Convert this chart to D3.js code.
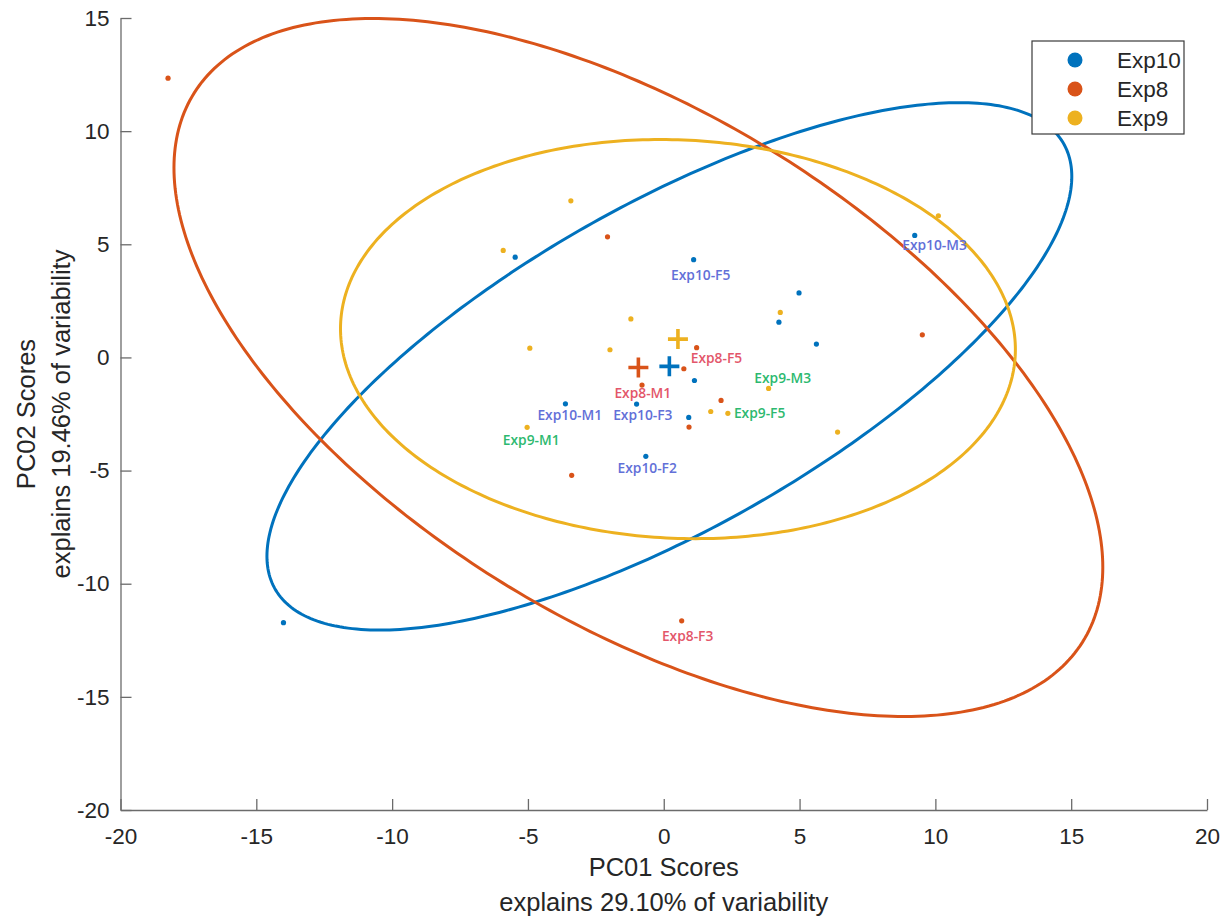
<!DOCTYPE html>
<html>
<head>
<meta charset="utf-8">
<script src="https://cdn.jsdelivr.net/npm/d3@7"></script>
<style>
  html, body { margin: 0; padding: 0; background: #ffffff; }
  svg { display: block; }
</style>
</head>
<body>
<svg id="chart" width="1230" height="917"></svg>
<script>
// ---------------- DATA ----------------
const groups = ["Exp10", "Exp8", "Exp9"];

const exp10X = [-5.47, 1.10, 4.98, 4.24, 5.62, 1.13, -3.62, -1.00, 0.92, -0.66, 9.24, -14.00];
const exp10Y = [4.43, 4.32, 2.85, 1.56, 0.59, -1.02, -2.05, -2.06, -2.65, -4.37, 5.39, -11.72];

const exp8X = [-18.25, -2.07, 9.52, 1.21, 0.74, -0.80, 2.11, 0.93, -3.39, 0.66];
const exp8Y = [12.34, 5.33, 1.00, 0.43, -0.50, -1.22, -1.90, -3.08, -5.21, -11.64];

const exp9X = [-5.91, -3.42, -1.21, -4.93, -1.98, 4.29, 3.86, 1.73, 2.36, -5.03, 6.40, 10.11];
const exp9Y = [4.73, 6.92, 1.70, 0.41, 0.34, 1.99, -1.37, -2.39, -2.47, -3.09, -3.30, 6.26];

const xTicks = [-20, -15, -10, -5, 0, 5, 10, 15, 20];
const yTicks = [-20, -15, -10, -5, 0, 5, 10, 15];

const labelText  = ["Exp10-F5", "Exp8-F5", "Exp9-M3", "Exp8-M1", "Exp10-M1", "Exp10-F3", "Exp9-F5", "Exp9-M1", "Exp10-F2", "Exp10-M3", "Exp8-F3"];
const labelGroup = ["Exp10", "Exp8", "Exp9", "Exp8", "Exp10", "Exp10", "Exp9", "Exp9", "Exp10", "Exp10", "Exp8"];
const labelX     = [1.36, 1.94, 4.38, -0.77, -3.46, -0.77, 3.53, -4.88, -0.61, 9.97, 0.88];
const labelY     = [3.67, 0.00, -0.88, -1.57, -2.50, -2.50, -2.43, -3.61, -4.87, 4.98, -12.30];

const xTitle = ["PC01 Scores", "explains 29.10% of variability"];
const yTitle = ["PC02 Scores", "explains 19.46% of variability"];

const chi2_95 = 5.991; // 95% confidence ellipse, 2 dof

// ---------------- STYLE ----------------
const groupColor = { Exp10: "#0072BD", Exp8: "#D95319", Exp9: "#EDB120" };
const labelColor = { Exp10: "#6270d8", Exp8: "#e3566a", Exp9: "#2db96f" };
const axisFont = "'Liberation Sans', Arial, Helvetica, sans-serif";
const labelFont = "'Open Sans', 'Noto Sans', sans-serif";

const seriesX = { Exp10: exp10X, Exp8: exp8X, Exp9: exp9X };
const seriesY = { Exp10: exp10Y, Exp8: exp8Y, Exp9: exp9Y };

// ---------------- SCALES ----------------
const svg = d3.select("#chart");
const x = d3.scaleLinear().domain([-20, 20]).range([120.5, 1207]);
const y = d3.scaleLinear().domain([-20, 15]).range([810, 18]);

// ---------------- AXES ----------------
const xAxis = d3.axisBottom(x).tickValues(xTicks).tickFormat(d3.format("d"))
  .tickSizeInner(-11).tickSizeOuter(0).tickPadding(18);
const yAxis = d3.axisLeft(y).tickValues(yTicks).tickFormat(d3.format("d"))
  .tickSizeInner(-11).tickSizeOuter(0).tickPadding(11);

const gx = svg.append("g").attr("transform", `translate(0,${y(-20)})`).call(xAxis);
const gy = svg.append("g").attr("transform", `translate(${x(-20)},0)`).call(yAxis);
[gx, gy].forEach(g => {
  g.select(".domain").attr("stroke", "#6b6b6b").attr("stroke-width", 1.3);
  g.selectAll(".tick line").attr("stroke", "#6b6b6b").attr("stroke-width", 1.3);
  g.selectAll(".tick text").attr("fill", "#262626")
    .style("font-family", axisFont).style("font-size", "22.5px");
});
gx.selectAll(".tick text").text(d => d < 0 ? "-" + Math.abs(d) : d);
gy.selectAll(".tick text").text(d => d < 0 ? "-" + Math.abs(d) : d);

// axis titles
svg.append("g").selectAll("text").data(xTitle).join("text")
  .attr("x", x(0)).attr("y", (d, i) => 867 + i * 35)
  .attr("text-anchor", "middle").attr("dominant-baseline", "central")
  .attr("fill", "#262626").style("font-family", axisFont).style("font-size", "25.5px")
  .text(d => d);

svg.append("g").selectAll("text").data(yTitle).join("text")
  .attr("transform", (d, i) => `translate(${26 + i * 35},${(y(15) + y(-20)) / 2}) rotate(-90)`)
  .attr("text-anchor", "middle").attr("dominant-baseline", "central")
  .attr("fill", "#262626").style("font-family", axisFont).style("font-size", "25.5px")
  .text(d => d);

// ---------------- ELLIPSES (95% covariance) ----------------
const k = Math.sqrt(chi2_95);
const stats = groups.map(g => {
  const xs = seriesX[g], ys = seriesY[g], n = xs.length;
  const mx = d3.mean(xs), my = d3.mean(ys);
  let sxx = 0, syy = 0, sxy = 0;
  for (let i = 0; i < n; i++) {
    sxx += (xs[i] - mx) ** 2; syy += (ys[i] - my) ** 2; sxy += (xs[i] - mx) * (ys[i] - my);
  }
  sxx /= (n - 1); syy /= (n - 1); sxy /= (n - 1);
  const l11 = Math.sqrt(sxx), l21 = sxy / l11, l22 = Math.sqrt(syy - l21 * l21);
  return { g, mx, my, l11, l21, l22 };
});

const line = d3.line().x(d => x(d[0])).y(d => y(d[1])).curve(d3.curveLinearClosed);
const ts = d3.range(0, 360, 1).map(a => a * Math.PI / 180);

svg.append("g").selectAll("path").data(stats).join("path")
  .attr("d", s => line(ts.map(t => [
    s.mx + k * s.l11 * Math.cos(t),
    s.my + k * (s.l21 * Math.cos(t) + s.l22 * Math.sin(t))
  ])))
  .attr("fill", "none").attr("stroke", s => groupColor[s.g]).attr("stroke-width", 3);

// ---------------- POINTS ----------------
const pts = groups.flatMap(g => seriesX[g].map((v, i) => ({ g, x: v, y: seriesY[g][i] })));
svg.append("g").selectAll("circle").data(pts).join("circle")
  .attr("cx", d => x(d.x)).attr("cy", d => y(d.y)).attr("r", 2.6)
  .attr("fill", d => groupColor[d.g]);

// ---------------- MEAN CROSSES ----------------
svg.append("g").selectAll("path").data(stats).join("path")
  .attr("d", s => {
    const cx = x(s.mx), cy = y(s.my), h = 10;
    return `M${cx - h},${cy}H${cx + h}M${cx},${cy - h}V${cy + h}`;
  })
  .attr("stroke", s => groupColor[s.g]).attr("stroke-width", 3.6).attr("fill", "none");

// ---------------- LABELS ----------------
svg.append("g").selectAll("text").data(labelText).join("text")
  .attr("x", (d, i) => x(labelX[i])).attr("y", (d, i) => y(labelY[i]))
  .attr("text-anchor", "middle").attr("dominant-baseline", "central")
  .attr("fill", (d, i) => labelColor[labelGroup[i]])
  .style("font-family", labelFont).style("font-size", "13.8px").style("font-weight", 600)
  .text(d => d);

// ---------------- LEGEND ----------------
const lg = svg.append("g");
lg.append("rect").attr("x", 1032).attr("y", 41).attr("width", 152).attr("height", 93)
  .attr("fill", "#ffffff").attr("stroke", "#3a3a3a").attr("stroke-width", 1.2);
const items = lg.selectAll("g.item").data(groups).join("g").attr("class", "item")
  .attr("transform", (d, i) => `translate(0,${60 + i * 29})`);
items.append("circle").attr("cx", 1075).attr("cy", 0).attr("r", 7.5).attr("fill", d => groupColor[d]);
items.append("text").attr("x", 1117).attr("y", 0).attr("dominant-baseline", "central")
  .attr("fill", "#262626").style("font-family", axisFont).style("font-size", "22.5px")
  .text(d => d);
</script>
</body>
</html>
